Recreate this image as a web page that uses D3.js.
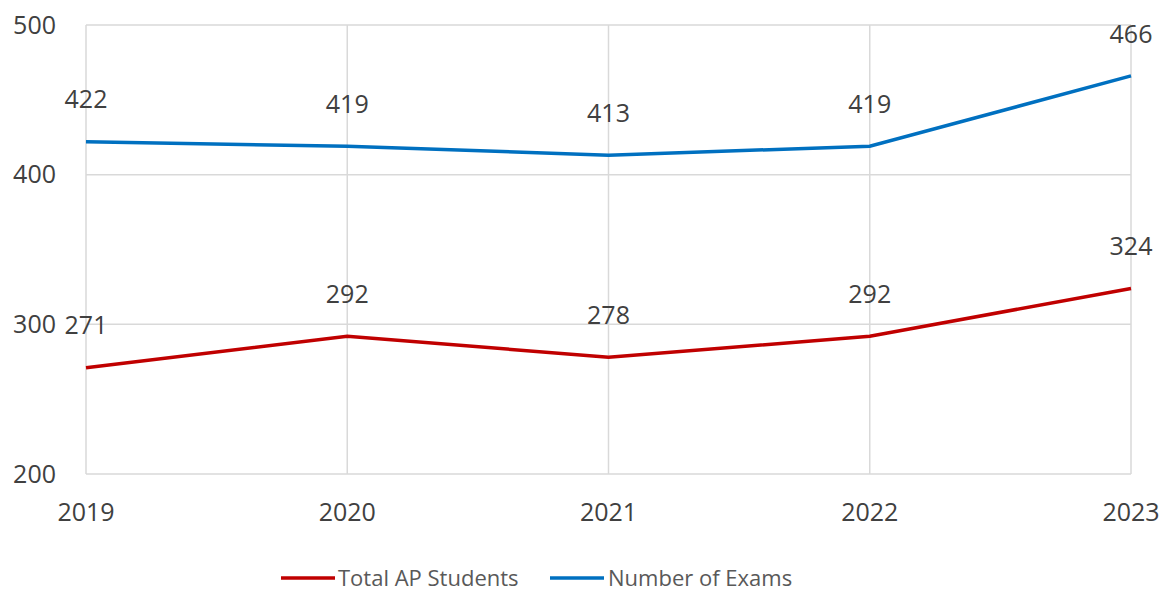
<!DOCTYPE html>
<html>
<head>
<style>
  body { margin: 0; background: #fff; }
  text { font-family: "Open Sans", sans-serif; fill: #404040; }
</style>
<script src="https://d3js.org/d3.v7.min.js"></script>
</head>
<body>
<svg width="1164" height="591"></svg>
<script>
var years = ["2019", "2020", "2021", "2022", "2023"];
var totalStudents = [271, 292, 278, 292, 324];
var numberExams = [422, 419, 413, 419, 466];
var yTicks = [200, 300, 400, 500];

var series = [
  { name: "Total AP Students", values: totalStudents, color: "#C00000" },
  { name: "Number of Exams", values: numberExams, color: "#0070C0" }
];

var svg = d3.select("svg");
var plotLeft = 86, plotRight = 1131, plotTop = 25, plotBottom = 474;

var x = d3.scalePoint().domain(years).range([plotLeft, plotRight]);
var y = d3.scaleLinear().domain([200, 500]).range([plotBottom, plotTop]);

// gridlines
svg.append("g").selectAll("line").data(yTicks).enter().append("line")
  .attr("x1", plotLeft).attr("x2", plotRight)
  .attr("y1", function (d) { return y(d); }).attr("y2", function (d) { return y(d); })
  .attr("stroke", "#d9d9d9").attr("stroke-width", 1.5);

svg.append("g").selectAll("line").data(years).enter().append("line")
  .attr("x1", function (d) { return x(d); }).attr("x2", function (d) { return x(d); })
  .attr("y1", plotTop).attr("y2", plotBottom)
  .attr("stroke", "#d9d9d9").attr("stroke-width", 1.5);

// axis labels
svg.append("g").selectAll("text").data(yTicks).enter().append("text")
  .attr("x", 56).attr("y", function (d) { return y(d); })
  .attr("dy", "0.35em").attr("text-anchor", "end")
  .attr("font-size", "25px")
  .text(function (d) { return d; });

svg.append("g").selectAll("text").data(years).enter().append("text")
  .attr("x", function (d) { return x(d); }).attr("y", 521)
  .attr("text-anchor", "middle")
  .attr("font-size", "25px")
  .text(function (d) { return d; });

var line = d3.line()
  .x(function (d, i) { return x(years[i]); })
  .y(function (d) { return y(d); });

series.forEach(function (s) {
  svg.append("path")
    .datum(s.values)
    .attr("fill", "none")
    .attr("stroke", s.color)
    .attr("stroke-width", 3.5)
    .attr("d", line);

  svg.append("g").selectAll("text").data(s.values).enter().append("text")
    .attr("x", function (d, i) { return x(years[i]); })
    .attr("y", function (d) { return y(d) - 42; })
    .attr("dy", "0.35em")
    .attr("text-anchor", "middle")
    .attr("font-size", "25px")
    .text(function (d) { return d; });
});

// legend
var legendPos = [{ x: 281, tx: 338 }, { x: 550, tx: 608 }];
series.forEach(function (s, i) {
  var lg = svg.append("g");
  lg.append("line")
    .attr("x1", legendPos[i].x).attr("x2", legendPos[i].x + 54)
    .attr("y1", 578).attr("y2", 578)
    .attr("stroke", s.color).attr("stroke-width", 3.5);
  lg.append("text")
    .attr("x", legendPos[i].tx).attr("y", 578)
    .attr("dy", "0.35em")
    .attr("font-size", "22px")
    .style("fill", "#595959")
    .text(s.name);
});
</script>
</body>
</html>
